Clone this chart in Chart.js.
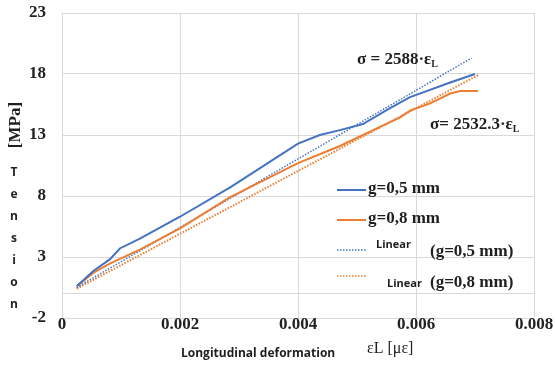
<!DOCTYPE html>
<html>
<head>
<meta charset="utf-8">
<script src="https://cdn.jsdelivr.net/npm/chart.js"></script>
<style>
body{margin:0;background:white}
#box{width:555px;height:365px}
</style>
</head>
<body>
<div id="box"><canvas id="canvas" width="555" height="365"></canvas></div>
<script>
// values
let strain05=[0.00025,0.00053,0.00081,0.00098,0.00132,0.002,0.00285,0.004,0.00437,0.00471,0.0051,0.00556,0.0059,0.00658,0.007]
let tension05=[0.6,1.85,2.8,3.7,4.5,6.3,8.7,12.3,13.0,13.4,13.9,15.2,16.1,17.3,18.0]
let strain08=[0.00025,0.00053,0.00081,0.00132,0.002,0.00285,0.004,0.00471,0.00556,0.00573,0.0059,0.00624,0.00658,0.00675,0.00705]
let tension08=[0.6,1.7,2.45,3.6,5.35,7.9,10.7,12.1,14.05,14.45,15.0,15.6,16.4,16.6,16.6]
let linStrain05=[0.00025,0.00694]
let linTension05=[0.5,19.3]
let linStrain08=[0.00025,0.00705]
let linTension08=[0.4,17.9]
let xTicks=[0,0.002,0.004,0.006,0.008]
let yTicks=[-2,0,3,8,13,18,23]
let yLabels=['-2','','3','8','13','18','23']

let blue='#4472C4'
let orange='#ED7D31'
let serif='"Liberation Serif", "DejaVu Serif", serif'
let sans='"Open Sans", "Liberation Sans", sans-serif'

function pts(xs,ys) {
    return xs.map((x,i)=>({x:x,y:ys[i]}))
}

function sub(c,main,x,y,size) {
    c.font='bold '+size+'px '+serif
    c.textAlign='left'
    c.fillText(main,x,y)
    let w=c.measureText(main).width
    c.font='bold 10px '+serif
    c.fillText('L',x+w,y+4)
}

let extras={
    id:'extras',
    beforeDraw(chart){
        let c=chart.ctx
        c.save()
        c.fillStyle='white'
        c.fillRect(0,0,chart.width,chart.height)
        c.restore()
    },
    afterDraw(chart){
        let c=chart.ctx
        c.save()
        c.fillStyle='#1f1f1f'
        c.textBaseline='middle'

        // y title
        c.save()
        c.translate(16,125)
        c.rotate(-Math.PI/2)
        c.textAlign='center'
        c.font='bold 17px '+serif
        c.fillText('[MPa]',0,0)
        c.restore()
        c.font='bold 12px '+sans
        c.textAlign='center'
        'Tension'.split('').forEach((ch,i)=>{
            c.fillText(ch,14,173+i*22)
        })

        // x title
        c.textAlign='left'
        c.font='bold 12px '+sans
        c.fillText('Longitudinal deformation',181,354)
        c.font='16px '+serif
        c.fillText('εL [με]',367,349)

        // equations
        sub(c,'σ = 2588·ε',357,60,17)
        sub(c,'σ= 2532.3·ε',430,125,17)

        // legend
        let rows=[
            {y:190,color:blue,dash:[],w:2},
            {y:220,color:orange,dash:[],w:2},
            {y:250,color:blue,dash:[1.5,1.5],w:1.5},
            {y:276,color:orange,dash:[1.5,1.5],w:1.5}
        ]
        rows.forEach(r=>{
            c.beginPath()
            c.setLineDash(r.dash)
            c.strokeStyle=r.color
            c.lineWidth=r.w
            c.moveTo(337,r.y)
            c.lineTo(366,r.y)
            c.stroke()
        })
        c.setLineDash([])
        c.textAlign='left'
        c.font='bold 17px '+serif
        c.fillText('g=0,5 mm',368,189)
        c.fillText('g=0,8 mm',368,219)
        c.fillText('(g=0,5 mm)',430,252)
        c.fillText('(g=0,8 mm)',430,283)
        c.font='bold 11px '+sans
        c.fillText('Linear',376,245)
        c.fillText('Linear',387,284)
        c.restore()
    }
}

let canvas=document.getElementById('canvas')
new Chart(canvas,{
    type:'scatter',
    data:{
        datasets:[
            {label:'g=0,5 mm',data:pts(strain05,tension05),showLine:true,borderColor:blue,borderWidth:2,pointRadius:0,tension:0},
            {label:'g=0,8 mm',data:pts(strain08,tension08),showLine:true,borderColor:orange,borderWidth:2,pointRadius:0,tension:0},
            {label:'Linear (g=0,5 mm)',data:pts(linStrain05,linTension05),showLine:true,borderColor:blue,borderWidth:1.5,borderDash:[1.5,1.5],pointRadius:0},
            {label:'Linear (g=0,8 mm)',data:pts(linStrain08,linTension08),showLine:true,borderColor:orange,borderWidth:2,borderDash:[1.5,1.5],pointRadius:0}
        ]
    },
    options:{
        responsive:false,
        animation:false,
        layout:{padding:{top:13,right:21,left:0,bottom:0}},
        plugins:{legend:{display:false},tooltip:{enabled:false}},
        scales:{
            x:{
                type:'linear',
                min:0,
                max:0.008,
                afterBuildTicks:function(s){s.ticks=xTicks.map(v=>({value:v}))},
                afterFit:function(s){s.height=47},
                grid:{color:'#d9d9d9',drawTicks:false},
                border:{display:false},
                ticks:{
                    padding:-4,
                    color:'#222',
                    font:{family:serif,weight:'bold',size:17},
                    callback:function(v){return v===0?'0':v.toFixed(3)}
                }
            },
            y:{
                min:-2,
                max:23,
                afterBuildTicks:function(s){s.ticks=yTicks.map(v=>({value:v}))},
                afterFit:function(s){s.width=62;s.paddingTop=0;s.paddingBottom=0},
                grid:{color:'#d9d9d9',drawTicks:false},
                border:{display:false},
                ticks:{
                    padding:16,
                    color:'#222',
                    font:{family:serif,weight:'bold',size:17},
                    callback:function(v){return yLabels[yTicks.indexOf(v)]}
                }
            }
        }
    },
    plugins:[extras]
})
</script>
</body>
</html>
